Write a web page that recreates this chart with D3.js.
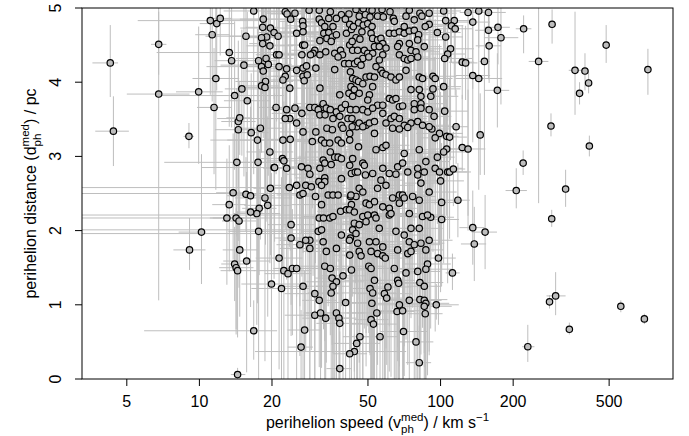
<!DOCTYPE html>
<html lang="en">
<head>
<meta charset="utf-8">
<title>perihelion speed vs distance</title>
<script src="https://cdn.jsdelivr.net/npm/d3@7"></script>
<style>
  body { margin: 0; background: #fff; }
  svg { display: block; }
  text { font-family: "Liberation Sans", Arial, Helvetica, sans-serif; fill: #000; }
</style>
</head>
<body>
<div id="chart"></div>
<script>
// tick values
var xTicks = [5, 10, 20, 50, 100, 200, 500];
var yTicks = [0, 1, 2, 3, 4, 5];

// error bar shapes: [down, up] in pc, [lo, hi] as fraction of speed
var errClasses = [
  [0.9, 0.8, 0.85, 1.18],
  [1.5, 1.2, 0.80, 1.25],
  [2.2, 1.5, 0.75, 1.30],
  [0.5, 0.5, 0.88, 1.12],
  [3.0, 2.0, 0.70, 1.35],
  [1.0, 1.0, 0.50, 1.60],
  [0.8, 0.8, 0.06, 1.40]
];

// stars whose bars can be read: [v, d, vLo, vHi, dLo, dHi]
var sparseStars = [
  [4.27, 4.26, 3.6, 4.6, 3.80, 4.77],
  [4.4, 3.34, 3.7, 5.1, 2.87, 3.81],
  [6.78, 4.51, 6.3, 7.3, 4.10, 4.95],
  [6.78, 3.84, 5.0, 9.1, 1.06, 5.0],
  [9.05, 3.27, 8.6, 9.5, 3.11, 3.45],
  [9.93, 3.87, 8.0, 12.5, 2.9, 4.75],
  [10.2, 1.98, 8.2, 10.6, 1.28, 3.03],
  [9.1, 1.74, 7.8, 10.6, 1.47, 2.17],
  [16.8, 0.65, 5.9, 21, 0.26, 1.06],
  [14.4, 0.06, 13.5, 15.5, 0, 0.15],
  [221, 4.72, 205, 238, 4.39, 4.9],
  [290, 4.78, 280, 300, 4.52, 4.98],
  [255, 4.28, 232, 280, 2.37, 5.0],
  [486, 4.50, 470, 500, 4.26, 4.77],
  [724, 4.17, 705, 745, 3.83, 4.45],
  [361, 4.16, 340, 385, 3.56, 4.95],
  [397, 4.15, 385, 410, 3.89, 4.39],
  [411, 3.99, 400, 422, 3.85, 4.13],
  [377, 3.85, 365, 390, 3.70, 4.0],
  [287, 3.41, 278, 296, 3.27, 3.58],
  [414, 3.14, 405, 424, 3.0, 3.28],
  [220, 2.91, 212, 228, 2.75, 3.08],
  [206, 2.54, 186, 228, 2.30, 2.84],
  [330, 2.56, 320, 340, 2.32, 2.82],
  [289, 2.16, 280, 298, 2.05, 2.28],
  [300, 1.12, 275, 330, 0.86, 1.44],
  [283, 1.04, 276, 290, 0.95, 1.13],
  [559, 0.98, 548, 570, 0.90, 1.06],
  [700, 0.81, 688, 712, 0.74, 0.88],
  [342, 0.67, 334, 350, 0.60, 0.76],
  [230, 0.435, 218, 245, 0.23, 0.73],
  [130, 4.94, 120, 140, 2.0, 5.0],
  [152, 4.28, 145, 160, 2.75, 4.95],
  [146, 3.29, 140, 152, 2.75, 3.85],
  [123, 3.12, 118, 128, 2.8, 3.83],
  [112, 1.43, 105, 120, 1.2, 1.69],
  [96, 1.00, 90, 119, 0.8, 1.28],
  [43.9, 0.37, 17, 72, 0.1, 0.6]
];

// the rest: [v, d, error class]
var slowStars = [
  [11.1,4.83,5],[11.8,4.79,0],[12.2,4.86,3],[11.3,4.64,0],[11.7,4.05,1],[11.5,3.66,0],[13.3,4.40,5],[13.6,4.29,0],
  [15.3,4.23,1],[15.6,4.62,0],[16.8,4.96,2],[14.0,3.82,5],[15.0,3.91,0],[15.8,3.75,1],[14.5,3.47,0],[14.7,3.52,3],
  [14.5,3.36,1],[16.4,3.32,0],[17.4,3.22,2],[17.9,3.38,1],[14.3,2.92,5],[17.5,2.92,0],[19.6,3.06,1],[13.8,2.51,0],
  [15.6,2.49,3],[16.3,2.47,1],[13.3,2.35,0],[18.7,2.44,2],[19.2,2.34,1],[19.7,2.57,0],[17.7,2.30,0],[17.3,2.23,1],
  [16.3,2.25,3],[13.0,2.17,0],[14.2,2.17,1],[14.6,2.13,0],[17.6,1.99,2],[14.7,1.74,0],[15.7,1.59,1],[14.0,1.55,3],
  [14.2,1.50,0],[14.4,1.46,0],[19.9,1.28,2],
  [18.4,4.85,1],[18.3,4.74,0],[19.7,4.73,2],[20.4,4.67,0],[19.0,4.61,1],[18.1,4.60,0],[18.3,4.52,3],[19.6,4.49,1],
  [17.6,4.29,0],[18.9,4.32,2],[18.1,4.21,0],[19.3,4.24,1],[18.4,4.15,0],[18.8,4.01,2],[18.1,3.95,0],[18.7,3.93,1],
  [20.8,3.66,0],[20.4,2.85,1],[20.9,4.37,0]
];

var fastStars = [
  [103,4.96,0],[144,4.96,3],[158,4.94,0],[105,4.83,1],[114,4.83,0],[111,4.76,3],[115,4.72,0],[136,4.81,0],
  [97,4.67,1],[105,4.61,0],[158,4.70,3],[173,4.74,3],[178,4.60,0],[159,4.49,3],[110,4.45,1],[107,4.38,0],
  [104,4.32,2],[123,4.27,3],[127,4.26,3],[136,4.09,0],[144,4.05,1],[172,3.89,3],[93,4.08,1],[95,4.05,0],
  [93,3.91,2],[103,3.94,0],[104,3.61,1],[94,3.54,0],[116,3.40,3],[92,3.37,0],[99,3.31,1],[95,3.25,0],
  [106,3.27,3],[109,3.26,0],[130,3.10,0],[106,3.10,0],[103,3.06,1],[97,2.99,0],[95,2.84,2],[99,2.79,0],
  [107,2.79,1],[109,2.79,0],[113,2.83,3],[100,2.67,1],[101,2.38,0],[118,2.41,3],[91,2.18,1],[101,2.15,0],
  [136,2.04,3],[153,1.98,3],[138,1.82,3],[98,1.63,0]
];

var coreUpper = [
  [22.7,4.95,1],[23.1,4.92,0],[24.9,4.93,2],[28.5,4.97,1],[31.4,4.97,0],[34.9,4.95,4],[38.8,4.91,1],[41.7,4.92,0],
  [23.9,4.85,5],[26.8,4.82,1],[26.9,4.76,0],[31.4,4.85,2],[32.1,4.80,1],[34.4,4.86,0],[37.0,4.86,3],[40.3,4.85,2],
  [42.0,4.78,1],[25.3,4.66,0],[26.9,4.68,1],[33.1,4.75,2],[35.8,4.75,0],[32.8,4.66,1],[34.4,4.67,4],[40.7,4.66,0],
  [42.7,4.71,1],[33.8,4.59,3],[35.6,4.61,1],[37.0,4.64,2],[21.2,4.62,5],[31.6,4.56,0],[35.2,4.55,1],[26.8,4.50,2],
  [27.3,4.50,0],[30.1,4.43,1],[29.6,4.39,4],[33.4,4.41,0],[28.9,4.37,1],[31.6,4.37,2],[36.4,4.39,0],[38.5,4.43,1],
  [39.2,4.37,3],[37.6,4.34,2],[21.4,4.37,1],[26.6,4.37,0],[42.0,4.50,1],[21.4,4.21,5],[23.0,4.18,1],[25.3,4.16,0],
  [26.9,4.19,2],[27.8,4.22,1],[30.4,4.19,0],[36.4,4.17,4],[40.0,4.25,1],[41.7,4.25,0],[22.7,4.08,1],[22.2,4.03,0],
  [26.9,4.08,2],[27.2,4.02,1],[28.0,4.10,3],[42.3,4.14,2],[23.7,3.92,1],[31.6,3.92,0],[38.2,3.83,2],[41.7,3.85,1],
  [23.0,3.63,0],[24.9,3.65,1],[26.6,3.58,2],[23.7,3.51,5],[22.7,3.51,1],[28.7,3.66,0],[30.1,3.66,4],[32.1,3.66,1],
  [31.1,3.63,0],[32.6,3.71,2],[33.6,3.65,1],[34.9,3.63,0],[37.0,3.60,1],[38.8,3.65,2],[40.3,3.70,0],[42.3,3.63,1],
  [31.6,3.56,3],[33.2,3.56,1],[35.8,3.51,2],[38.2,3.54,0],[41.3,3.51,1],[25.3,3.45,0],[38.8,3.42,2],
  [44.6,4.98,1],[47.8,4.99,0],[52.0,4.97,2],[57.2,4.98,1],[61.7,4.95,4],[74.2,4.97,0],[82.1,4.93,1],[89.7,4.93,2],
  [46.0,4.89,0],[48.8,4.91,1],[51.0,4.88,2],[54.8,4.89,0],[57.9,4.88,1],[63.7,4.86,3],[64.3,4.82,2],[71.9,4.89,1],
  [77.8,4.84,0],[83.7,4.89,1],[89.7,4.78,2],[86.4,4.75,0],[43.5,4.75,1],[45.7,4.80,4],[47.8,4.77,0],[49.9,4.79,1],
  [52.0,4.75,2],[47.2,4.68,0],[61.3,4.66,1],[64.3,4.66,2],[67.5,4.68,0],[70.7,4.66,1],[74.2,4.69,3],[77.8,4.70,2],
  [81.1,4.64,1],[70.7,4.75,0],[44.6,4.60,2],[46.3,4.58,1],[43.0,4.55,0],[51.5,4.66,1],[52.3,4.59,4],[54.8,4.57,0],
  [56.6,4.59,1],[57.6,4.52,2],[53.2,4.48,0],[67.5,4.52,1],[66.4,4.48,2],[74.2,4.52,0],[75.4,4.43,1],[85.6,4.48,0],
  [80.4,4.57,2],[43.2,4.43,1],[45.3,4.43,0],[48.3,4.43,2],[49.9,4.39,1],[52.3,4.39,0],[47.6,4.32,4],[50.4,4.34,1],
  [55.7,4.48,0],[59.4,4.46,2],[57.6,4.37,1],[67.5,4.37,0],[70.7,4.32,1],[73.1,4.30,2],[75.4,4.32,0],[79.1,4.41,1],
  [80.4,4.34,3],[44.0,4.25,1],[45.3,4.28,2],[46.8,4.23,0],[55.7,4.30,1],[56.6,4.16,0],[57.6,4.12,2],[59.4,4.10,1],
  [62.3,4.07,0],[65.3,4.03,4],[67.5,4.07,1],[71.9,4.16,0],[54.0,4.21,2],[43.2,4.05,1],[44.6,4.03,0],[45.7,4.01,2],
  [49.1,4.07,1],[51.0,4.08,0],[53.2,4.07,1],[47.6,3.98,2],[81.6,4.07,0],[84.2,4.05,1],[42.5,3.94,2],[43.9,3.90,0],
  [43.2,3.81,1],[46.0,3.85,2],[52.3,3.94,0],[50.7,3.83,1],[49.9,3.76,4],[54.8,3.69,0],[57.6,3.69,1],[61.3,3.78,2],
  [63.3,3.76,0],[65.3,3.78,1],[75.4,3.90,0],[81.6,3.90,2],[82.9,3.81,1],[77.8,3.71,0],[82.9,3.71,1],[91.1,3.81,2],
  [44.6,3.63,0],[47.6,3.63,1],[49.9,3.60,2],[52.3,3.65,0],[57.6,3.58,1],[67.5,3.67,4],[69.6,3.68,0],[77.8,3.63,1],
  [82.9,3.65,2],[89.7,3.63,0],[42.9,3.51,1],[43.9,3.42,0],[44.9,3.40,2],[46.0,3.45,1],[49.1,3.42,0],[50.7,3.45,1],
  [53.2,3.47,2],[59.4,3.45,0],[62.3,3.51,1],[64.3,3.54,3],[67.5,3.51,2],[70.7,3.42,0],[75.4,3.45,1],[80.4,3.47,0],
  [84.2,3.42,2],[89.7,3.40,1]
];

var coreMiddle = [
  [26.9,3.33,1],[30.4,3.33,0],[33.8,3.38,2],[35.6,3.36,1],[39.4,3.38,0],[42.0,3.31,4],[22.2,3.22,5],[23.8,3.23,1],
  [29.4,3.20,0],[32.1,3.22,2],[33.1,3.18,1],[34.7,3.18,0],[37.6,3.22,1],[38.8,3.18,2],[42.0,3.22,0],[22.1,2.97,1],
  [22.4,2.94,0],[20.5,2.85,5],[23.0,2.84,1],[26.5,2.86,0],[28.2,2.84,2],[28.7,2.76,1],[32.6,2.95,0],[34.9,3.06,1],
  [36.4,2.99,4],[37.6,2.99,0],[38.8,2.97,1],[33.1,2.91,2],[35.2,2.89,0],[31.6,2.84,1],[42.0,2.88,0],[42.7,2.77,2],
  [23.6,2.58,6],[25.3,2.61,1],[27.6,2.61,0],[29.1,2.59,2],[26.1,2.48,1],[26.9,2.50,6],[30.3,2.46,0],[31.3,2.66,1],
  [33.1,2.71,2],[33.1,2.66,0],[32.1,2.61,1],[38.8,2.70,0],[34.2,2.48,1],[35.8,2.48,4],[37.6,2.48,0],[42.3,2.46,1],
  [32.1,2.35,2],[42.7,2.35,0],[31.4,2.17,6],[32.7,2.17,1],[34.7,2.17,0],[35.8,2.19,2],[38.5,2.26,1],[40.7,2.28,0],
  [24.0,2.08,1],[31.1,1.99,0],[32.1,2.01,6],[28.7,1.87,2],[27.6,1.87,1],[24.0,1.90,0],[26.1,1.81,1],[28.7,1.76,2],
  [32.6,1.85,0],[33.6,1.72,1],[37.0,1.76,4],[38.8,1.94,0],[42.3,1.90,1],
  [43.0,3.40,0],[47.6,3.40,1],[53.2,3.31,2],[63.3,3.38,0],[67.5,3.37,1],[73.1,3.39,0],[45.7,3.13,1],[54.0,3.09,2],
  [57.6,3.12,0],[59.4,3.15,1],[70.7,3.04,4],[81.6,3.09,0],[43.2,2.97,1],[47.6,2.91,0],[48.3,2.88,2],[44.3,2.79,1],
  [45.3,2.79,0],[48.8,2.75,1],[52.3,2.77,2],[57.6,2.84,0],[61.3,2.77,1],[65.3,2.76,0],[66.4,2.86,2],[69.6,2.91,1],
  [73.1,2.79,0],[80.4,2.84,1],[80.4,2.75,2],[85.6,2.79,0],[86.9,2.93,1],[82.9,2.64,0],[56.6,2.68,1],[59.4,2.61,2],
  [54.8,2.57,0],[46.0,2.57,1],[47.6,2.52,4],[44.6,2.46,0],[42.5,2.48,1],[49.1,2.37,2],[50.7,2.35,0],[53.2,2.39,1],
  [57.6,2.32,0],[61.3,2.30,2],[63.3,2.44,1],[67.5,2.48,0],[69.6,2.48,1],[67.5,2.37,2],[70.7,2.44,0],[76.6,2.46,1],
  [81.6,2.41,0],[89.7,2.52,2],[41.9,2.28,1],[43.9,2.25,0],[47.6,2.19,2],[49.9,2.21,1],[53.2,2.21,6],[54.0,2.17,0],
  [61.3,2.21,1],[62.3,2.23,2],[74.2,2.23,0],[84.2,2.19,1],[88.3,2.21,0],[43.9,2.10,2],[46.0,2.08,1],[43.2,2.01,0],
  [44.6,1.96,6],[49.1,2.12,1],[55.7,2.03,0],[65.3,1.99,2],[70.7,1.94,1],[75.4,2.03,0],[81.6,2.03,1],[41.9,1.87,0],
  [45.3,1.83,2],[50.7,1.85,1],[54.0,1.85,0],[57.6,1.78,4],[66.4,1.74,1],[74.2,1.85,0],[77.8,1.81,2],[82.9,1.83,1],
  [86.9,1.74,0],[89.7,1.87,1]
];

var coreLower = [
  [21.4,1.63,1],[42.0,1.67,0],[22.4,1.46,2],[23.3,1.42,1],[24.3,1.49,0],[25.3,1.49,1],[33.1,1.52,2],[34.9,1.49,0],
  [42.7,1.47,1],[21.9,1.22,2],[26.9,1.25,1],[35.5,1.36,0],[37.0,1.31,2],[39.4,1.39,1],[35.8,1.25,0],[35.2,1.16,1],
  [30.1,1.15,2],[31.4,1.06,0],[40.4,1.03,1],[30.1,0.86,2],[31.8,0.89,0],[33.4,0.82,1],[37.0,0.89,2],[37.9,0.82,0],
  [38.2,0.75,1],[27.3,0.66,0],[26.4,0.43,3],[42.0,0.34,0],[38.2,0.14,3],
  [46.0,1.72,1],[46.8,1.66,0],[51.5,1.72,2],[54.8,1.69,1],[57.6,1.66,0],[59.0,1.63,2],[73.1,1.69,1],[75.4,1.72,0],
  [88.3,1.55,1],[86.9,1.48,2],[50.4,1.52,0],[51.5,1.49,1],[64.3,1.49,2],[71.9,1.43,0],[80.4,1.45,1],[53.2,1.33,2],
  [51.0,1.22,0],[52.3,1.16,1],[58.5,1.15,2],[59.8,1.09,0],[60.5,1.24,1],[66.4,1.33,0],[67.0,1.29,2],[82.1,1.30,1],
  [85.6,1.25,0],[74.2,1.06,1],[82.1,1.07,2],[85.6,1.06,0],[86.9,1.02,1],[85.6,0.98,2],[86.4,0.88,0],[51.9,1.02,1],
  [67.5,1.00,2],[66.0,0.91,0],[69.6,0.92,1],[54.4,0.89,2],[51.5,0.80,0],[52.7,0.74,1],[46.3,0.57,0],[44.9,0.48,1],
  [56.1,0.57,0],[70.2,0.64,1],[79.1,0.50,0],[81.6,0.22,3]
];

var w = 689, h = 436;
var pLeft = 82, pRight = 673, pTop = 8, pBottom = 379;
var fs = 16;

var x = d3.scaleLog().domain([3.26, 920]).range([pLeft, pRight]);
var y = d3.scaleLinear().domain([0, 5]).range([pBottom, pTop]);

// one list with every star and its bar ends
var stars = sparseStars.map(function(s) {
  return {v: s[0], d: s[1], vLo: s[2], vHi: s[3], dLo: s[4], dHi: s[5]};
});
slowStars.concat(fastStars, coreUpper, coreMiddle, coreLower).forEach(function(s) {
  var e = errClasses[s[2]];
  stars.push({v: s[0], d: s[1], vLo: s[0] * e[2], vHi: s[0] * e[3], dLo: s[1] - e[0], dHi: s[1] + e[1]});
});

var svg = d3.select("#chart").append("svg")
  .attr("width", w)
  .attr("height", h);

svg.append("defs").append("clipPath").attr("id", "plotClip")
  .append("rect")
  .attr("x", pLeft).attr("y", pTop)
  .attr("width", pRight - pLeft).attr("height", pBottom - pTop);

var plot = svg.append("g").attr("clip-path", "url(#plotClip)");

// error bars
plot.append("g").selectAll("line")
  .data(stars)
  .enter()
  .append("line")
  .attr("x1", function(s) { return x(s.v); })
  .attr("x2", function(s) { return x(s.v); })
  .attr("y1", function(s) { return y(Math.max(-0.2, s.dLo)); })
  .attr("y2", function(s) { return y(Math.min(5.2, s.dHi)); })
  .attr("stroke", "#bebebe")
  .attr("stroke-width", 1);

plot.append("g").selectAll("line")
  .data(stars)
  .enter()
  .append("line")
  .attr("x1", function(s) { return x(Math.max(2, s.vLo)); })
  .attr("x2", function(s) { return x(s.vHi); })
  .attr("y1", function(s) { return y(s.d); })
  .attr("y2", function(s) { return y(s.d); })
  .attr("stroke", "#bebebe")
  .attr("stroke-width", 1);

// points
plot.append("g").selectAll("circle")
  .data(stars)
  .enter()
  .append("circle")
  .attr("cx", function(s) { return x(s.v); })
  .attr("cy", function(s) { return y(s.d); })
  .attr("r", 3.2)
  .attr("fill", "#bebebe")
  .attr("stroke", "#000")
  .attr("stroke-width", 1.2);

// frame
svg.append("rect")
  .attr("x", pLeft).attr("y", pTop)
  .attr("width", pRight - pLeft).attr("height", pBottom - pTop)
  .attr("fill", "none")
  .attr("stroke", "#000")
  .attr("stroke-width", 1);

// x axis
svg.append("g").selectAll("line")
  .data(xTicks)
  .enter()
  .append("line")
  .attr("x1", function(d) { return x(d); })
  .attr("x2", function(d) { return x(d); })
  .attr("y1", pBottom)
  .attr("y2", pBottom + 7)
  .attr("stroke", "#000");

svg.append("g").selectAll("text")
  .data(xTicks)
  .enter()
  .append("text")
  .attr("x", function(d) { return x(d); })
  .attr("y", 407)
  .attr("text-anchor", "middle")
  .attr("font-size", fs)
  .text(function(d) { return d; });

// y axis
svg.append("g").selectAll("line")
  .data(yTicks)
  .enter()
  .append("line")
  .attr("x1", pLeft)
  .attr("x2", pLeft - 7)
  .attr("y1", function(d) { return y(d); })
  .attr("y2", function(d) { return y(d); })
  .attr("stroke", "#000");

svg.append("g").selectAll("text")
  .data(yTicks)
  .enter()
  .append("text")
  .attr("transform", function(d) { return "translate(61," + y(d) + ") rotate(-90)"; })
  .attr("text-anchor", "middle")
  .attr("font-size", fs)
  .text(function(d) { return d; });

// label with stacked super/subscript, centred on (cx, cy)
function mathLabel(parts, cx, cy, rot) {
  var g = svg.append("g").attr("transform", "translate(" + cx + "," + cy + ")" + (rot ? " rotate(" + rot + ")" : ""));
  var t = g.append("text").attr("x", 0).attr("y", 0).attr("font-size", fs);
  var cur = 0, pend = 0, small = fs * 0.72;
  var up = -fs * 0.42, down = fs * 0.3;
  parts.forEach(function(p) {
    if (p.t) {
      t.append("tspan").attr("dx", pend).attr("dy", -cur).text(p.t);
      cur = 0; pend = 0;
    } else {
      var a = t.append("tspan").attr("font-size", small).attr("dx", pend).attr("dy", up - cur).text(p.sup);
      cur = up;
      var w1 = a.node().getComputedTextLength();
      pend = 0;
      if (p.sub) {
        var b = t.append("tspan").attr("font-size", small).attr("dx", -w1).attr("dy", down - cur).text(p.sub);
        cur = down;
        var w2 = b.node().getComputedTextLength();
        pend = Math.max(0, w1 - w2);
      }
    }
  });
  var bb = t.node().getBBox();
  t.attr("x", -bb.width / 2);
  return g;
}

mathLabel([
  {t: "perihelion speed (v"}, {sup: "med", sub: "ph"}, {t: ") / km s"}, {sup: "\u22121"}
], (pLeft + pRight) / 2, 428, 0);

mathLabel([
  {t: "perihelion distance (d"}, {sup: "med", sub: "ph"}, {t: ") / pc"}
], 36, (pTop + pBottom) / 2, -90);
</script>
</body>
</html>
